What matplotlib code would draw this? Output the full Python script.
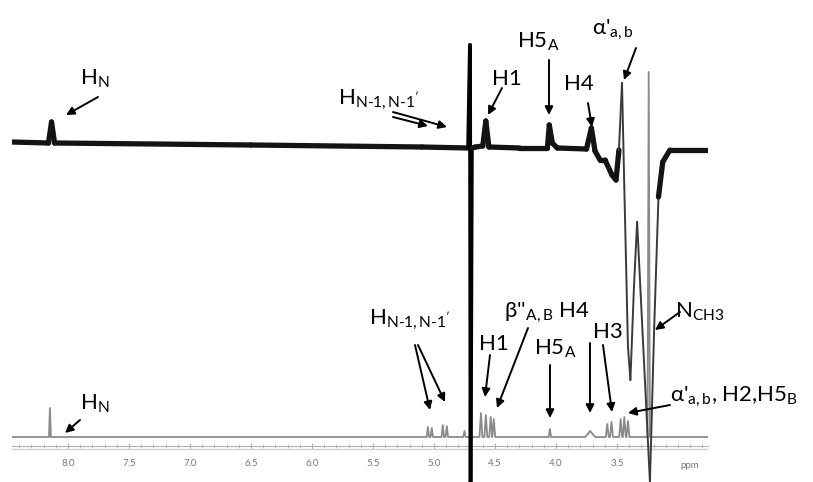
import matplotlib.pyplot as plt
from matplotlib.collections import LineCollection
from matplotlib.ticker import MultipleLocator

plt.rcParams['font.family'] = ['Lato', 'DejaVu Sans']
plt.rcParams['mathtext.fontset'] = 'custom'
plt.rcParams['mathtext.rm'] = 'Lato'
plt.rcParams['mathtext.it'] = 'Lato'

# upper trace (difference spectrum), ppm vs intensity (baseline ~290)
top_ppm = [8.46, 8.16, 8.135, 8.11, 6.5, 5.1, 4.72, 4.705, 4.70, 4.69, 4.66, 4.60, 4.575, 4.55,
           4.30, 4.07, 4.055, 4.03, 3.99, 3.75, 3.71, 3.68, 3.639, 3.598, 3.541, 3.508,
           3.484, 3.459, 3.440, 3.410, 3.390, 3.361, 3.335, 3.230, 3.195, 3.160, 3.125,
           3.066, 2.754]
top_int = [295, 294, 315, 294, 292, 290, 289, 392, -45, 289, 290, 291, 316, 290,
           289, 289, 312, 294, 289, 288, 309, 286, 277, 277, 262, 257,
           287, 354, 250, 90, 57, 150, 215, -45, 110, 240, 275,
           287, 287]

# lower trace (1H spectrum): peak positions (ppm), heights, half widths
low_ppm = [8.148, 5.05, 5.018, 4.928, 4.895, 4.75, 4.615, 4.575, 4.535, 4.51, 4.05, 3.72,
           3.58, 3.545, 3.47, 3.44, 3.41, 3.24]
low_h = [29, 10, 9, 12, 11, 6, 24, 22, 20, 18, 8, 6, 13, 15, 18, 20, 16, 365]
low_w = [0.008, 0.01, 0.01, 0.01, 0.01, 0.01, 0.012, 0.012, 0.012, 0.012, 0.01, 0.04,
         0.012, 0.012, 0.012, 0.012, 0.012, 0.01]

ticks = [8.0, 7.5, 7.0, 6.5, 6.0, 5.5, 5.0, 4.5, 4.0, 3.5]


def px(x, y):
    # pixel position in the figure -> data coordinates
    return 8 - (x - 68) / 122, 437 - y


fig = plt.figure(figsize=(8.13, 4.82), dpi=100)
ax = fig.add_axes([12 / 813, 0, 696 / 813, 1])
ax.set_xlim(8.459, 2.754)
ax.set_ylim(-45, 437)

# lower spectrum
lx, ly = [8.459], [0]
for p, h, w in zip(low_ppm, low_h, low_w):
    lx += [p + w, p, p - w]
    ly += [0, h, 0]
lx.append(2.754)
ly.append(0)
ax.plot(lx, ly, color='#8a8a8a', lw=1.3, zorder=2)

# upper spectrum: noisy band drawn heavy, the big excursions near 3.3 ppm thin
segs, widths, cols = [], [], []
for i in range(len(top_ppm) - 1):
    segs.append([(top_ppm[i], top_int[i]), (top_ppm[i + 1], top_int[i + 1])])
    mid = (top_ppm[i] + top_ppm[i + 1]) / 2
    if 3.17 < mid < 3.475:
        widths.append(1.4)
        cols.append('#3a3a3a')
    elif abs(top_int[i + 1] - top_int[i]) > 80:
        widths.append(2.8)
        cols.append('#000000')
    else:
        widths.append(3.8)
        cols.append('#141414')
ax.add_collection(LineCollection(segs, linewidths=widths, colors=cols, zorder=3,
                                 capstyle='round', joinstyle='round'))

# axis
for s in ['top', 'left', 'right']:
    ax.spines[s].set_visible(False)
ax.spines['bottom'].set_position(('data', -9))
ax.spines['bottom'].set_color('#b0b0b0')
ax.axhline(-12, color='#d0d0d0', lw=1)
ax.set_yticks([])
ax.set_xticks(ticks)
ax.set_xticklabels(['%.1f' % t for t in ticks])
ax.xaxis.set_minor_locator(MultipleLocator(0.1))
ax.tick_params(axis='x', which='both', direction='inout', color='#b0b0b0',
               labelsize=7, labelcolor='#777777', pad=7)
ax.tick_params(axis='x', which='major', length=5)
ax.tick_params(axis='x', which='minor', length=3)
ax.text(*px(690, 465), 'ppm', fontsize=7, color='#777777', ha='center', va='center')

fs = 16
arrow = dict(arrowstyle='-|>', color='black', lw=1.4, mutation_scale=12,
             shrinkA=0, shrinkB=0)


def label(x, y, s, size=fs):
    ax.text(*px(x, y), s, fontsize=size, ha='left', va='baseline', zorder=5)


def arr(x0, y0, x1, y1):
    ax.annotate('', xy=px(x1, y1), xytext=px(x0, y0), arrowprops=arrow, zorder=5)


# upper labels
label(80, 85, r'H$_\mathrm{N}$')
arr(98, 97, 66, 115)
label(338, 105, r"H$_\mathrm{N\text{-}1,N\text{-}1'}$")
arr(393, 112, 447, 127)
arr(393, 117, 428, 126)
label(492, 85, 'H1')
arr(502, 88, 488, 115)
label(517, 48, r'H5$_\mathrm{A}$')
arr(549, 60, 549, 115)
label(564, 90, 'H4')
arr(588, 103, 592, 127)
label(592, 35, r"α'$_\mathrm{a,b}$")
arr(636, 48, 624, 80)

# lower labels
label(80, 410, r'H$_\mathrm{N}$')
arr(80, 420, 65, 433)
label(369, 325, r"H$_\mathrm{N\text{-}1,N\text{-}1'}$")
arr(415, 345, 430, 410)
arr(418, 345, 445, 402)
label(479, 350, 'H1')
arr(490, 355, 485, 397)
label(504, 318, r"β''$_\mathrm{A,B}$ H4")
arr(528, 328, 497, 408)
arr(590, 343, 590, 413)
label(534, 355, r'H5$_\mathrm{A}$')
arr(550, 365, 550, 418)
label(593, 338, 'H3')
arr(603, 345, 612, 412)
label(675, 318, r'N$_\mathrm{CH3}$')
arr(680, 312, 655, 330)
label(670, 402, r"α'$_\mathrm{a,b}$, H2,H5$_\mathrm{B}$")
arr(670, 405, 628, 413)

fig.savefig('out.png', dpi=100)
